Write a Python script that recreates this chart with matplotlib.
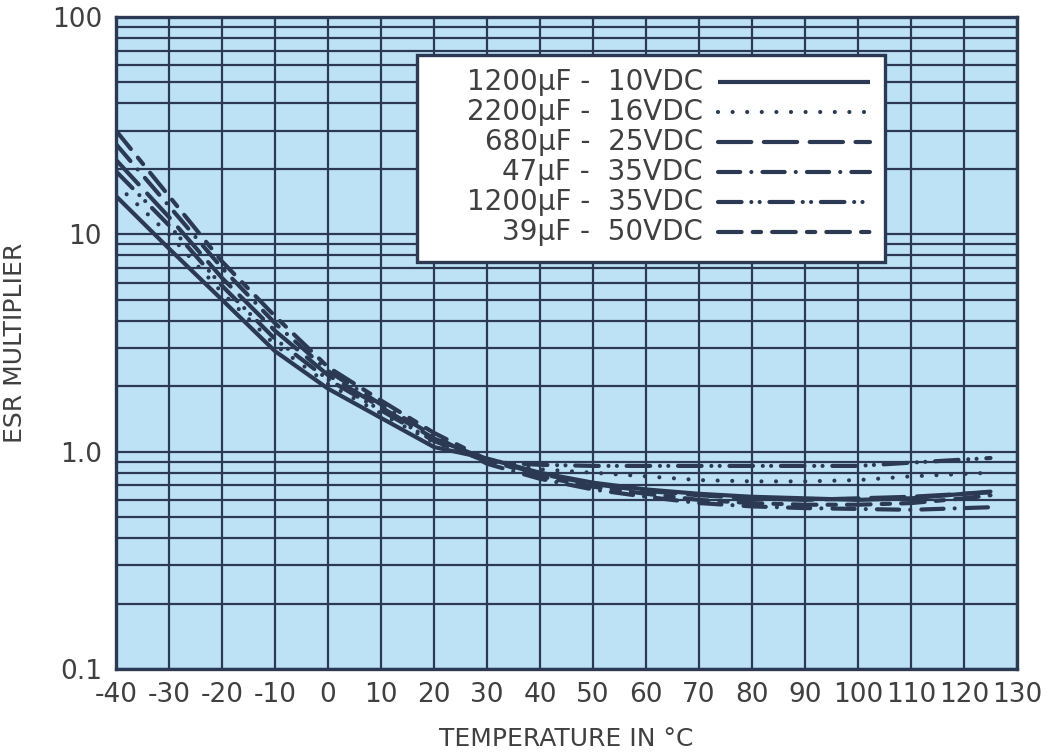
import matplotlib
matplotlib.use("Agg")
import matplotlib.pyplot as plt
from matplotlib.lines import Line2D
from matplotlib.patches import Rectangle

plt.rcParams['font.family'] = ['DejaVu Sans']
plt.rcParams['lines.scale_dashes'] = False

# ---- data ----
temps = [-40, -30, -20, -10, 0, 10, 20, 30, 40, 50, 60, 70, 80, 90, 100, 110, 120, 125]

esr_1200uF_10V = [15.0, 8.6, 5.0, 2.9, 1.95, 1.43, 1.05, 0.93, 0.80, 0.72, 0.67, 0.64, 0.62, 0.61, 0.60, 0.61, 0.64, 0.65]
esr_2200uF_16V = [17.0, 10.0, 5.4, 3.1, 2.05, 1.50, 1.10, 0.92, 0.83, 0.80, 0.77, 0.74, 0.73, 0.73, 0.74, 0.77, 0.79, 0.80]
esr_680uF_25V  = [22.0, 12.0, 6.3, 3.6, 2.25, 1.60, 1.15, 0.92, 0.79, 0.71, 0.66, 0.63, 0.61, 0.60, 0.61, 0.62, 0.64, 0.655]
esr_47uF_35V   = [26.0, 13.5, 7.0, 3.9, 2.35, 1.65, 1.18, 0.88, 0.75, 0.67, 0.62, 0.58, 0.56, 0.55, 0.545, 0.54, 0.55, 0.555]
esr_1200uF_35V = [19.5, 11.0, 5.8, 3.3, 2.15, 1.55, 1.12, 0.90, 0.87, 0.86, 0.86, 0.86, 0.86, 0.86, 0.86, 0.89, 0.92, 0.935]
esr_39uF_50V   = [30.0, 15.0, 7.5, 4.2, 2.45, 1.72, 1.22, 0.92, 0.77, 0.69, 0.64, 0.60, 0.58, 0.57, 0.57, 0.58, 0.61, 0.63]

series_labels = ["1200\u03bcF -  10VDC", "2200\u03bcF -  16VDC", "680\u03bcF -  25VDC",
                 "47\u03bcF -  35VDC", "1200\u03bcF -  35VDC", "39\u03bcF -  50VDC"]
series_values = [esr_1200uF_10V, esr_2200uF_16V, esr_680uF_25V,
                 esr_47uF_35V, esr_1200uF_35V, esr_39uF_50V]

x_ticks = list(range(-40, 131, 10))
y_ticks = [0.1, 1.0, 10, 100]
y_tick_labels = ["0.1", "1.0", "10", "100"]

# ---- styles ----
ink = '#2b3a52'
txt = '#404040'
bg = '#bde2f5'
lw = 3.0
styles = [
    dict(linestyle='-'),
    dict(linestyle=(0, (0.01, 10.5))),
    dict(linestyle=(0, (24, 9))),
    dict(linestyle=(0, (16, 8, 0.01, 8))),
    dict(linestyle=(0, (17, 7, 0.01, 6, 0.01, 7))),
    dict(linestyle=(0, (17, 8, 6, 8))),
]

fig = plt.figure(figsize=(10.55, 7.53), dpi=100)
ax = fig.add_axes([116/1055, 1 - 669/753, 901/1055, 652/753])
ax.set_facecolor(bg)

for vals, st in zip(series_values, styles):
    ax.plot(temps, vals, color=ink, lw=lw, dash_capstyle='round',
            solid_capstyle='butt', solid_joinstyle='round', zorder=3, **st)

ax.set_yscale('log')
ax.set_xlim(-40, 130)
ax.set_ylim(0.1, 100)
ax.set_xticks(x_ticks)
ax.set_xticklabels([str(t) for t in x_ticks])
ax.set_yticks(y_ticks)
ax.set_yticklabels(y_tick_labels)
ax.grid(which='both', axis='y', color=ink, lw=1.6, zorder=1)
ax.grid(which='major', axis='x', color=ink, lw=1.6, zorder=1)
ax.set_axisbelow(True)
ax.tick_params(which='both', length=0, labelsize=19, colors=txt)
ax.tick_params(axis='x', pad=9)
ax.tick_params(axis='y', pad=10)
for sp in ax.spines.values():
    sp.set_color(ink)
    sp.set_linewidth(2.4)

ax.set_xlabel("TEMPERATURE IN \u00b0C", fontsize=18, color=txt, labelpad=14)
ax.set_ylabel("ESR MULTIPLIER", fontsize=18, color=txt, labelpad=18)

# ---- legend box (drawn manually to reproduce right-aligned labels) ----
box = Rectangle((0.334, 0.6242), 0.8535 - 0.334, 0.9417 - 0.6242, transform=ax.transAxes,
                facecolor='white', edgecolor=ink, lw=2.4, zorder=5)
ax.add_patch(box)
row_y0, row_dy = 0.9003, 0.0460
for i, (lab, st) in enumerate(zip(series_labels, styles)):
    yy = row_y0 - i * row_dy
    ax.text(0.6515, yy, lab, transform=ax.transAxes, ha='right', va='center',
            fontsize=20, color=txt, zorder=6)
    ax.add_line(Line2D([0.668, 0.837], [yy, yy], transform=ax.transAxes, color=ink,
                       lw=lw, dash_capstyle='round', solid_capstyle='butt', zorder=6, **st))

# title at the very top, cut off by the page edge in the reference
fig.text(0.53, 1.010, "Typical ESR vs. Temperature", color='#8cc4e6', fontsize=19,
         ha='center', va='baseline')

fig.savefig("out.png", dpi=100)
